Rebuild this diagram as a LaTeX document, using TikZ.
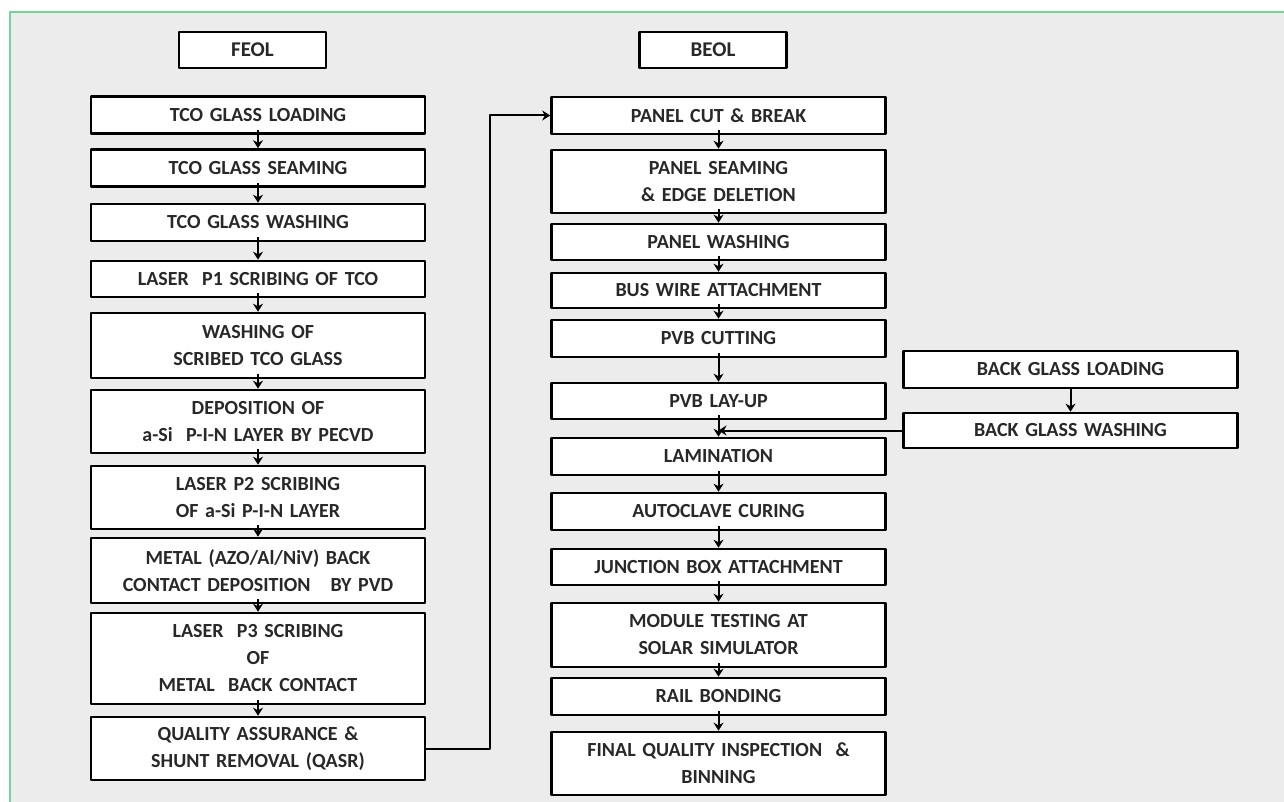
\documentclass[tikz,border=0pt]{standalone}
\usepackage{fontspec}
\setmainfont{Carlito}[WordSpace=0.6]
\usetikzlibrary{arrows.meta}
\definecolor{bggray}{RGB}{236,236,236}
\definecolor{framegreen}{RGB}{118,212,150}
\definecolor{txtgray}{RGB}{40,40,40}
\begin{document}
\begin{tikzpicture}[x=1pt, y=-1pt, >={Stealth[length=8pt,width=10pt]}, line join=round, font=\bfseries\fontsize{20}{27}\selectfont,
	stepbox/.style={draw, line width=2.6pt, fill=white, text=txtgray, align=center, text width=334pt, inner xsep=0pt, inner ysep=0pt, minimum height=37pt},
	headbox/.style={stepbox, text width=147pt, minimum height=36pt, font=\bfseries\fontsize{21}{24}\selectfont},
	flow/.style={->, line width=2pt, shorten <=-5pt}]
			\def\xl{258}
			\def\xr{718.5}
			\def\xb{1070.5}
			\useasboundingbox (0,0) rectangle (1284,802);
			\fill [bggray] (10,12) rectangle (1284,802);
			\draw [framegreen, line width=2pt] (10,802)--(10,12)--(1284,12);
			% headings
			\node [headbox] (feol) at (252.5,50) {FEOL};
			\node [headbox] (beol) at (713,50) {BEOL};
			% front end of line
			\node [stepbox] (load) at (\xl,115) {TCO GLASS LOADING};
			\node [stepbox] (seam) at (\xl,168) {TCO GLASS SEAMING};
			\node [stepbox] (wash) at (\xl,222.5) {TCO GLASS WASHING};
			\node [stepbox, minimum height=36pt] (pone) at (\xl,279) {LASER\ \ P1 SCRIBING OF TCO};
			\node [stepbox, minimum height=65pt] (swash) at (\xl,345.5) {WASHING OF\\SCRIBED TCO GLASS};
			\node [stepbox, minimum height=63pt] (depo) at (\xl,421.5) {DEPOSITION OF\\a-Si\ \ P-I-N LAYER BY PECVD};
			\node [stepbox, minimum height=63pt] (ptwo) at (\xl,497.5) {LASER P2 SCRIBING\\OF a-Si P-I-N LAYER};
			\node [stepbox, minimum height=65pt] (metal) at (\xl,570.5) {METAL (AZO/Al/NiV) BACK\\CONTACT DEPOSITION\ \ \ BY PVD};
			\node [stepbox, minimum height=91pt] (pthree) at (\xl,658.5) {LASER\ \ P3 SCRIBING\\OF\\METAL\ \ BACK CONTACT};
			\node [stepbox, minimum height=63pt] (qasr) at (\xl,748.5) {QUALITY ASSURANCE \&\\SHUNT REMOVAL (QASR)};
			% back end of line
			\node [stepbox] (cut) at (\xr,115.5) {PANEL CUT \& BREAK};
			\node [stepbox, minimum height=63pt] (pseam) at (\xr,181.5) {PANEL SEAMING\\\& EDGE\ DELETION};
			\node [stepbox, minimum height=36pt] (pwash) at (\xr,242) {PANEL WASHING};
			\node [stepbox, minimum height=35pt] (bus) at (\xr,290.5) {BUS WIRE ATTACHMENT};
			\node [stepbox] (pvbcut) at (\xr,338.5) {PVB CUTTING};
			\node [stepbox, minimum height=36pt] (layup) at (\xr,401) {PVB LAY-UP};
			\node [stepbox] (lami) at (\xr,456.5) {LAMINATION};
			\node [stepbox] (auto) at (\xr,511.5) {AUTOCLAVE CURING};
			\node [stepbox, minimum height=36pt] (jbox) at (\xr,567) {JUNCTION BOX ATTACHMENT};
			\node [stepbox, minimum height=64pt] (test) at (\xr,635) {MODULE TESTING AT\\SOLAR SIMULATOR};
			\node [stepbox] (rail) at (\xr,696.5) {RAIL BONDING};
			\node [stepbox, minimum height=63pt] (final) at (\xr,763.5) {FINAL QUALITY INSPECTION\ \ \&\\BINNING};
			% back glass
			\node [stepbox] (bgload) at (\xb,369.5) {BACK GLASS LOADING};
			\node [stepbox, minimum height=35pt] (bgwash) at (\xb,430.5) {BACK GLASS WASHING};
			% arrows
			\draw [flow] (load)--(seam);
			\draw [flow] (seam)--(wash);
			\draw [flow] (wash)--(pone);
			\draw [flow] (pone)--(swash);
			\draw [flow] (swash)--(depo);
			\draw [flow] (depo)--(ptwo);
			\draw [flow] (ptwo)--(metal);
			\draw [flow] (metal)--(pthree);
			\draw [flow] (pthree)--(qasr);
			\draw [flow, shorten <=0pt] (qasr.east)--++(64,0)|-(cut.west);
			\draw [flow] (cut)--(pseam);
			\draw [flow] (pseam)--(pwash);
			\draw [flow] (pwash)--(bus);
			\draw [flow] (bus)--(pvbcut);
			\draw [flow] (pvbcut)--(layup);
			\draw [flow] (layup)--(lami);
			\draw [flow] (lami)--(auto);
			\draw [flow] (auto)--(jbox);
			\draw [flow] (jbox)--(test);
			\draw [flow] (test)--(rail);
			\draw [flow] (rail)--(final);
			\draw [flow, shorten <=0pt] (bgload)--(bgwash);
			\draw [flow, shorten <=0pt] (bgwash.west)--(layup.south |- bgwash.west);
		\end{tikzpicture}
\end{document}
